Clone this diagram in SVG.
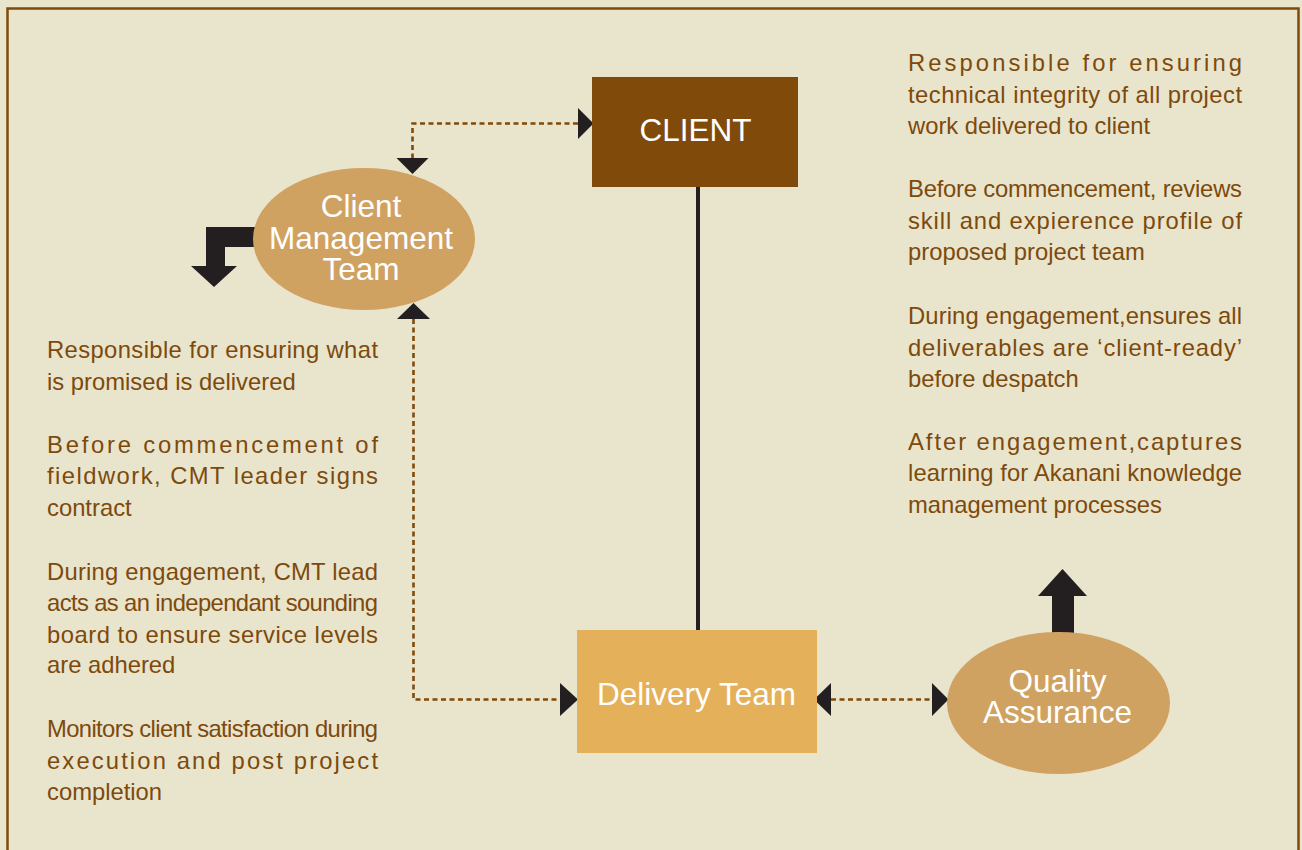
<svg xmlns="http://www.w3.org/2000/svg" width="1302" height="850" viewBox="0 0 1302 850">
  <defs>
    <style>
      .frame { fill: #e9e4cc; stroke: #7f4a0a; stroke-width: 2.5; }
      .label { font-family: "Liberation Sans", Arial, sans-serif; font-size: 31.5px; fill: #ffffff; text-anchor: middle; }
      .note { font-family: "Liberation Sans", Arial, sans-serif; font-size: 23.8px; fill: #7d4a0c; }
      .dotted { fill: none; stroke: #7f4a0a; stroke-width: 2.6; stroke-dasharray: 5 3.5; }
      .solid { fill: none; stroke: #231f20; stroke-width: 4; }
      .head { fill: #231f20; }
      .oval { fill: #d0a262; }
    </style>
  </defs>

  <!-- page background and frame -->
  <rect x="0" y="0" width="1302" height="850" fill="#e9e4cc"/>
  <rect class="frame" x="7.5" y="8.5" width="1291" height="860"/>

  <!-- connectors -->
  <g id="connectors">
    <!-- CLIENT to Delivery Team -->
    <line class="solid" x1="698" y1="186" x2="698" y2="631"/>
    <!-- CLIENT <-> Client Management Team -->
    <path class="dotted" d="M578 123.5 H412.5 V158"/>
    <polygon class="head" points="578,108 593.5,123.5 578,139"/>
    <polygon class="head" points="396.5,158 428.5,158 412.5,174"/>
    <!-- Client Management Team <-> Delivery Team -->
    <path class="dotted" d="M413.5 319 V699.5 H561"/>
    <polygon class="head" points="397,319 430,319 413.5,303"/>
    <polygon class="head" points="560,683 578,699.5 560,716"/>
    <!-- Delivery Team <-> Quality Assurance -->
    <path class="dotted" d="M831 699.5 H933"/>
    <polygon class="head" points="831,683 814,699.5 831,716"/>
    <polygon class="head" points="932,683 948.5,699.5 932,716"/>
    <!-- outgoing block arrows -->
    <polygon class="head" points="258,227 206,227 206,266 191,266 214,287 237,266 225,266 225,247 258,247"/>
    <polygon class="head" points="1052,634 1052,596 1038,596 1062.5,569 1087,596 1074,596 1074,634"/>
  </g>

  <!-- CLIENT -->
  <g id="client">
    <rect x="592" y="77" width="206" height="110" fill="#7f4a0a"/>
    <text class="label" x="695.5" y="141">CLIENT</text>
  </g>

  <!-- Client Management Team -->
  <g id="cmt">
    <ellipse class="oval" cx="364" cy="239" rx="111" ry="71"/>
    <text class="label"><tspan x="361" y="217">Client</tspan><tspan x="361" y="248.5">Management</tspan><tspan x="361" y="280">Team</tspan></text>
  </g>

  <!-- Delivery Team -->
  <g id="delivery">
    <rect x="577" y="630" width="240" height="123" fill="#e5b05a"/>
    <text class="label" x="696.5" y="705">Delivery Team</text>
  </g>

  <!-- Quality Assurance -->
  <g id="qa">
    <ellipse class="oval" cx="1058.5" cy="703" rx="111.5" ry="71"/>
    <text class="label"><tspan x="1057.5" y="692">Quality</tspan><tspan x="1057.5" y="723">Assurance</tspan></text>
  </g>

  <!-- Client Management Team responsibilities -->
  <g id="cmt-notes" class="note">
    <text x="47" y="358" textLength="331" lengthAdjust="spacing">Responsible for ensuring what</text>
    <text x="47" y="389.5">is promised is delivered</text>
    <text x="47" y="452.5" textLength="331" lengthAdjust="spacing">Before commencement of</text>
    <text x="47" y="484" textLength="331" lengthAdjust="spacing">fieldwork, CMT leader signs</text>
    <text x="47" y="515.5">contract</text>
    <text x="47" y="579.5" textLength="331" lengthAdjust="spacing">During engagement, CMT lead</text>
    <text x="47" y="611" textLength="331" lengthAdjust="spacing">acts as an independant sounding</text>
    <text x="47" y="642.5" textLength="331" lengthAdjust="spacing">board to ensure service levels</text>
    <text x="47" y="673">are adhered</text>
    <text x="47" y="737" textLength="331" lengthAdjust="spacing">Monitors client satisfaction during</text>
    <text x="47" y="768.5" textLength="331" lengthAdjust="spacing">execution and post project</text>
    <text x="47" y="800">completion</text>
  </g>

  <!-- Quality Assurance responsibilities -->
  <g id="qa-notes" class="note">
    <text x="908" y="71" textLength="334" lengthAdjust="spacing">Responsible for ensuring</text>
    <text x="908" y="102.5" textLength="334" lengthAdjust="spacing">technical integrity of all project</text>
    <text x="908" y="134">work delivered to client</text>
    <text x="908" y="197" textLength="334" lengthAdjust="spacing">Before commencement, reviews</text>
    <text x="908" y="228.5" textLength="334" lengthAdjust="spacing">skill and expierence profile of</text>
    <text x="908" y="260">proposed project team</text>
    <text x="908" y="324" textLength="334" lengthAdjust="spacing">During engagement,ensures all</text>
    <text x="908" y="355.5" textLength="334" lengthAdjust="spacing">deliverables are ‘client-ready’</text>
    <text x="908" y="387">before despatch</text>
    <text x="908" y="449.5" textLength="334" lengthAdjust="spacing">After engagement,captures</text>
    <text x="908" y="481" textLength="334" lengthAdjust="spacing">learning for Akanani knowledge</text>
    <text x="908" y="512.5">management processes</text>
  </g>
</svg>
